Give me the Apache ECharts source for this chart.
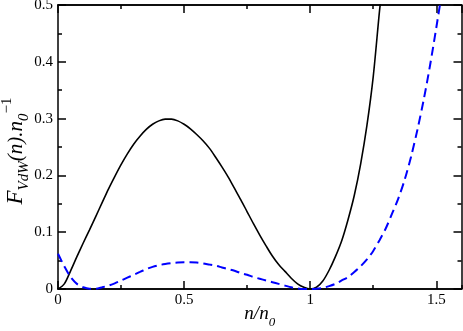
<!DOCTYPE html>
<html><head><meta charset="utf-8">
<script src="https://cdn.jsdelivr.net/npm/echarts@6/dist/echarts.min.js"></script>
<style>html,body{margin:0;padding:0;background:#fff}#c{width:463px;height:331px}</style>
</head><body><div id="c"></div>
<script>
// Data
const blackN = [0, 0.025, 0.05, 0.075, 0.1, 0.125, 0.15, 0.175, 0.2, 0.225, 0.25, 0.275, 0.3, 0.325, 0.35, 0.375, 0.4, 0.425, 0.45, 0.475, 0.5, 0.525, 0.55, 0.575, 0.6, 0.625, 0.65, 0.675, 0.7, 0.725, 0.75, 0.775, 0.8, 0.825, 0.85, 0.875, 0.9, 0.925, 0.95, 0.975, 1.0, 1.025, 1.05, 1.075, 1.1, 1.125, 1.15, 1.175, 1.2, 1.225, 1.25, 1.275, 1.29];
const blackF = [0, 0.009, 0.032, 0.057, 0.081, 0.104, 0.128, 0.152, 0.176, 0.198, 0.219, 0.238, 0.255, 0.269, 0.281, 0.290, 0.296, 0.299, 0.299, 0.296, 0.290, 0.282, 0.272, 0.261, 0.248, 0.232, 0.215, 0.197, 0.177, 0.157, 0.136, 0.115, 0.095, 0.076, 0.058, 0.043, 0.031, 0.019, 0.009, 0.003, 0, 0.003, 0.014, 0.033, 0.057, 0.085, 0.122, 0.165, 0.220, 0.288, 0.374, 0.49, 0.55];
const blueN = [0, 0.025, 0.05, 0.075, 0.1, 0.125, 0.15, 0.175, 0.2, 0.225, 0.25, 0.275, 0.3, 0.325, 0.35, 0.375, 0.4, 0.425, 0.45, 0.475, 0.5, 0.525, 0.55, 0.575, 0.6, 0.625, 0.65, 0.675, 0.7, 0.725, 0.75, 0.775, 0.8, 0.825, 0.85, 0.875, 0.9, 0.925, 0.95, 0.975, 1.0, 1.025, 1.05, 1.075, 1.1, 1.125, 1.15, 1.175, 1.2, 1.225, 1.25, 1.275, 1.3, 1.325, 1.35, 1.375, 1.4, 1.425, 1.45, 1.475, 1.5, 1.525];
const blueF = [0.062, 0.040, 0.021, 0.009, 0.003, 0.0005, 0.0005, 0.003, 0.006, 0.010, 0.015, 0.020, 0.025, 0.030, 0.035, 0.039, 0.042, 0.044, 0.0455, 0.0465, 0.047, 0.047, 0.0465, 0.045, 0.043, 0.041, 0.038, 0.035, 0.032, 0.028, 0.025, 0.021, 0.018, 0.015, 0.012, 0.009, 0.006, 0.003, 0.001, 0, 0, 0.0005, 0.002, 0.005, 0.009, 0.015, 0.021, 0.030, 0.040, 0.052, 0.067, 0.086, 0.107, 0.133, 0.160, 0.193, 0.233, 0.280, 0.333, 0.393, 0.46, 0.53];
const xMajorTicks = [0, 0.5, 1, 1.5];
const yMajorTicks = [0, 0.1, 0.2, 0.3, 0.4, 0.5];

const FONT = 'Liberation Serif';
const line = {color: '#000', width: 1.5};
const tickFmt = v => String(+v.toFixed(2));

const gridPos = {left: 58, right: 1.5, top: 5, bottom: 42, containLabel: false, outerBoundsMode: 'none'};

function xAx(grid, pos, interval, len, labels, extra) {
  return Object.assign({
    type: 'value', gridIndex: grid, position: pos, min: 0, max: 1.6, interval: interval,
    axisLine: {show: true, onZero: false, lineStyle: line},
    axisTick: {show: true, inside: true, length: len, lineStyle: line},
    axisLabel: {show: labels, formatter: tickFmt, showMaxLabel: false, fontFamily: FONT, fontSize: 15, color: '#000', margin: 4},
    splitLine: {show: false}
  }, extra || {});
}
function yAx(grid, pos, labels, extra) {
  return Object.assign({
    type: 'value', gridIndex: grid, position: pos, min: 0, max: 0.5, interval: 0.1,
    axisLine: {show: true, onZero: false, lineStyle: line},
    axisTick: {show: true, inside: true, length: 8, lineStyle: line},
    minorTick: {show: true, splitNumber: 2, length: 4, lineStyle: line},
    axisLabel: {show: labels, formatter: tickFmt, fontFamily: FONT, fontSize: 15, color: '#000', margin: 5},
    splitLine: {show: false}
  }, extra || {});
}

const chart = echarts.init(document.getElementById('c'), null, {renderer: 'canvas'});
chart.setOption({
  animation: false,
  backgroundColor: '#fff',
  grid: [gridPos, gridPos],
  xAxis: [
    xAx(0, 'bottom', 0.5, 8, true, {
      name: '{i|n/n}{sub|0}', nameLocation: 'middle', nameGap: 14, nameMoveOverlap: false,
      nameTextStyle: {rich: {
        i: {fontFamily: FONT, fontStyle: 'italic', fontSize: 19, color: '#000', lineHeight: 22},
        sub: {fontFamily: FONT, fontStyle: 'italic', fontSize: 13, color: '#000', lineHeight: 22, padding: [18, 0, 0, 0]}
      }}
    }),
    xAx(0, 'top', 0.5, 8, false),
    xAx(1, 'bottom', 0.25, 4, false),
    xAx(1, 'top', 0.25, 4, false)
  ],
  yAxis: [
    yAx(0, 'left', true, {
      name: '{F|F}{sub|VdW}{m|(n).n}{sub|0}{sup|\u22121}', nameLocation: 'middle', nameRotate: 90, nameGap: 29, nameMoveOverlap: false,
      nameTextStyle: {padding: [0, 8, 0, 0], rich: {
        F: {fontFamily: FONT, fontStyle: 'italic', fontSize: 23, color: '#000', lineHeight: 26},
        m: {fontFamily: FONT, fontStyle: 'italic', fontSize: 21, color: '#000', lineHeight: 26},
        sub: {fontFamily: FONT, fontStyle: 'italic', fontSize: 15, color: '#000', lineHeight: 26, padding: [16, 0, 0, 0]},
        sup: {fontFamily: FONT, fontSize: 15, color: '#000', lineHeight: 26, padding: [0, 0, 18, 0]}
      }}
    }),
    yAx(0, 'right', false),
    yAx(1, 'left', false, {show: false})
  ],
  series: [
    {type: 'line', xAxisIndex: 0, yAxisIndex: 0, showSymbol: false, smooth: 0.3, clip: true,
     lineStyle: {color: '#000', width: 1.6}, data: blackN.map((n, i) => [n, blackF[i]])},
    {type: 'line', xAxisIndex: 0, yAxisIndex: 0, showSymbol: false, smooth: 0.3, clip: true,
     lineStyle: {color: '#0000ff', width: 2, type: [9, 5]}, data: blueN.map((n, i) => [n, blueF[i]])}
  ]
});
</script></body></html>
